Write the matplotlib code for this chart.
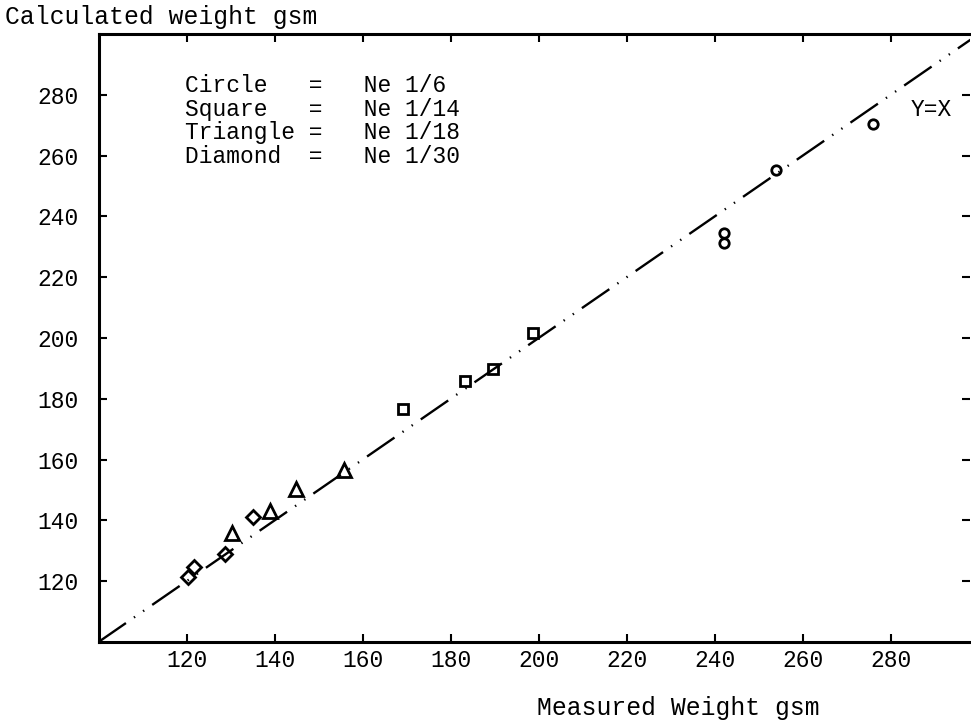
import matplotlib.pyplot as plt

# Values (gsm)
circle_x = [276.0, 254.0, 242.2, 242.2]
circle_y = [270.5, 255.1, 234.5, 231.2]
square_x = [198.8, 189.7, 183.3, 169.2]
square_y = [201.6, 189.8, 185.9, 176.7]
triangle_x = [155.8, 144.9, 139.0, 130.3]
triangle_y = [156.7, 150.2, 143.0, 135.7]
diamond_x = [135.1, 128.8, 121.7, 120.3]
diamond_y = [141.0, 128.9, 124.6, 121.3]

tick_values = [120, 140, 160, 180, 200, 220, 240, 260, 280]
line_xy = [100, 300]

legend_lines = ['Circle   =   Ne 1/6',
                'Square   =   Ne 1/14',
                'Triangle =   Ne 1/18',
                'Diamond  =   Ne 1/30']

FONT = 'Liberation Mono'
FS = 16.5

plt.rcParams['lines.scale_dashes'] = False

fig = plt.figure(figsize=(9.71, 7.23), dpi=100)
ax = fig.add_axes([98.5 / 971, 81 / 723, 871.5 / 971, 608 / 723])

# Y = X reference line (long dash, two dots)
ax.plot(line_xy, line_xy, color='black', linewidth=1.7,
        dashes=(24, 7, 1, 7, 1, 7), zorder=1)

mk = dict(linestyle='none', markerfacecolor='none', markeredgecolor='black',
          markeredgewidth=2.0, zorder=3)
ax.plot(circle_x, circle_y, marker='o', markersize=6.8, **mk)
ax.plot(square_x, square_y, marker='s', markersize=7.3, **mk)
ax.plot(triangle_x, triangle_y, marker='^', markersize=10, **mk)
ax.plot(diamond_x, diamond_y, marker='D', markersize=7.3, **mk)

ax.set_xlim(100, 298)
ax.set_ylim(100, 300)
ax.set_xticks(tick_values)
ax.set_yticks(tick_values)
ax.tick_params(direction='in', length=6, width=1.5, top=True, right=True,
               labelsize=FS)
ax.tick_params(axis='x', pad=5)
ax.tick_params(axis='y', pad=14)
for lab in ax.get_xticklabels() + ax.get_yticklabels():
    lab.set_fontfamily(FONT)

for side in ['left', 'bottom', 'top']:
    ax.spines[side].set_linewidth(2.2)
ax.spines['right'].set_visible(False)

for i, line in enumerate(legend_lines):
    ax.text(185 / 971, 1 - (86 + 23.5 * i) / 723, line, transform=fig.transFigure,
            fontfamily=FONT, fontsize=FS, va='center', ha='left')

ax.text(931 / 971, 1 - 110 / 723, 'Y=X', transform=fig.transFigure,
        fontfamily=FONT, fontsize=FS, va='center', ha='center')

fig.text(5 / 971, 1 - 17 / 723, 'Calculated weight gsm', fontfamily=FONT,
         fontsize=17.8, va='center', ha='left')
fig.text(678 / 971, 1 - 708 / 723, 'Measured Weight gsm', fontfamily=FONT,
         fontsize=17.8, va='center', ha='center')

fig.savefig('out.png', dpi=100, facecolor='white')
